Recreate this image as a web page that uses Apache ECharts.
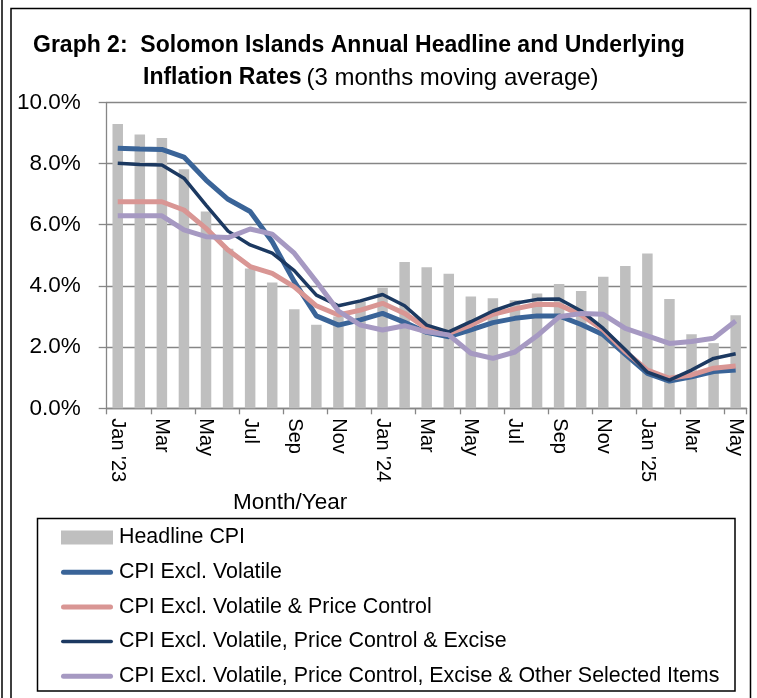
<!DOCTYPE html>
<html>
<head>
<meta charset="utf-8">
<script src="https://cdn.jsdelivr.net/npm/echarts@6/dist/echarts.min.js"></script>
<style>
  html, body { margin: 0; padding: 0; background: #fff; }
  #chart { width: 757px; height: 698px; }
</style>
</head>
<body>
<div id="chart"></div>
<script>
// months, Jan '23 .. May '25
const months = ["Jan '23", "Feb", "Mar", "Apr", "May", "Jun", "Jul", "Aug", "Sep", "Oct", "Nov", "Dec",
  "Jan '24", "Feb", "Mar", "Apr", "May", "Jun", "Jul", "Aug", "Sep", "Oct", "Nov", "Dec",
  "Jan '25", "Feb", "Mar", "Apr", "May"];

const headlineCPI = [9.29, 8.95, 8.83, 7.81, 6.43, 5.21, 4.57, 4.11, 3.24, 2.73, 3.0, 3.48,
  3.94, 4.78, 4.61, 4.40, 3.65, 3.60, 3.53, 3.75, 4.06, 3.83, 4.30, 4.65, 5.06, 3.57, 2.42, 2.13, 3.04];
const exVolatile = [8.50, 8.47, 8.46, 8.21, 7.46, 6.83, 6.43, 5.44, 4.14, 3.02, 2.72, 2.89,
  3.10, 2.81, 2.48, 2.34, 2.56, 2.80, 2.94, 3.02, 3.02, 2.74, 2.40, 1.76, 1.14, 0.89, 1.03, 1.20, 1.25];
const exVolPriceCtrl = [6.75, 6.75, 6.75, 6.48, 5.88, 5.17, 4.63, 4.41, 3.97, 3.35, 3.05, 3.21,
  3.43, 3.10, 2.61, 2.45, 2.72, 3.07, 3.25, 3.40, 3.38, 3.05, 2.56, 1.85, 1.25, 0.98, 1.09, 1.31, 1.38];
const exVolPriceCtrlExcise = [8.01, 7.97, 7.95, 7.52, 6.64, 5.79, 5.34, 5.07, 4.50, 3.70, 3.35, 3.51,
  3.72, 3.35, 2.72, 2.50, 2.83, 3.18, 3.43, 3.56, 3.57, 3.18, 2.61, 1.91, 1.18, 0.92, 1.25, 1.63, 1.78];
const exVolPriceCtrlExciseOther = [6.29, 6.29, 6.29, 5.83, 5.61, 5.58, 5.86, 5.69, 5.07, 4.14, 3.18, 2.72,
  2.56, 2.70, 2.50, 2.40, 1.80, 1.63, 1.84, 2.37, 2.99, 3.10, 3.07, 2.61, 2.37, 2.12, 2.18, 2.29, 2.85];

const font = "Liberation Sans";
const chart = echarts.init(document.getElementById("chart"));

// legend icons: wide flat bars, keeps aspect inside 52x14 box
const barIcon = "path://M0,0 H52 V14 H0 Z";
const thickLine = "path://M2.5,0 H49.5 A2.5,2.5 0 0 1 49.5,5 H2.5 A2.5,2.5 0 0 1 2.5,0 Z";
const thinLine = "path://M1.75,0 H50.25 A1.75,1.75 0 0 1 50.25,3.5 H1.75 A1.75,1.75 0 0 1 1.75,0 Z";

const option = {
  animation: false,
  textStyle: { fontFamily: font, color: "#000" },
  title: [
    {
      text: "Graph 2:  Solomon Islands Annual Headline and Underlying",
      left: 33,
      top: 34,
      padding: 0,
      textStyle: { fontFamily: font, fontSize: 23, fontWeight: "bold", color: "#000" },
    },
    {
      text: "{b|Inflation Rates} {n|(3 months moving average)}",
      left: 143,
      top: 66,
      padding: 0,
      textStyle: {
        fontWeight: "normal",
        rich: {
          b: { fontFamily: font, fontSize: 23, fontWeight: "bold", color: "#000" },
          n: { fontFamily: font, fontSize: 24, fontWeight: "normal", color: "#000" },
        },
      },
    },
  ],
  legend: {
    orient: "vertical",
    left: 61,
    top: 527,
    padding: 0,
    itemWidth: 52,
    itemHeight: 14,
    itemGap: 13.7,
    selectedMode: false,
    itemStyle: { borderWidth: 0 },
    textStyle: { fontFamily: font, fontSize: 21.4, color: "#000", padding: [0, 0, 0, 1] },
    data: [
      { name: "Headline CPI", icon: barIcon },
      { name: "CPI Excl. Volatile", icon: thickLine },
      { name: "CPI Excl. Volatile & Price Control", icon: thickLine },
      { name: "CPI Excl. Volatile, Price Control & Excise", icon: thinLine },
      { name: "CPI Excl. Volatile, Price Control, Excise & Other Selected Items", icon: thickLine },
    ],
  },
  grid: {
    left: 106.7,
    right: 10.3,
    top: 102.3,
    bottom: 289.7,
  },
  xAxis: {
    type: "category",
    data: months,
    boundaryGap: true,
    axisLine: { lineStyle: { color: "#868686", width: 1.3 } },
    axisTick: { show: true, interval: 1, length: 6, lineStyle: { color: "#868686", width: 1.3 } },
    axisLabel: {
      interval: 1,
      rotate: -90,
      margin: 10,
      fontFamily: font,
      fontSize: 20,
      color: "#000",
    },
    splitLine: { show: false },
  },
  yAxis: {
    type: "value",
    min: 0,
    max: 10,
    interval: 2,
    axisLine: { show: true, lineStyle: { color: "#868686", width: 1.3 } },
    axisTick: { show: true, length: 8, lineStyle: { color: "#868686", width: 1.3 } },
    axisLabel: {
      margin: 26,
      fontFamily: font,
      fontSize: 22.5,
      color: "#000",
      formatter: (v) => v.toFixed(1) + "%",
    },
    splitLine: { lineStyle: { color: "#868686", width: 1.3 } },
  },
  graphic: [
    // outer frame
    { type: "line", shape: { x1: 2, y1: 0, x2: 2, y2: 698 }, style: { stroke: "#000", lineWidth: 1.5 } },
    { type: "rect", shape: { x: 11, y: 8.5, width: 739.5, height: 700 }, style: { fill: "none", stroke: "#000", lineWidth: 1.5 } },
    // legend box
    { type: "rect", shape: { x: 37.5, y: 518.5, width: 697.5, height: 172.5 }, style: { fill: "none", stroke: "#000", lineWidth: 1.5 } },
    // axis title
    {
      type: "text",
      left: 233,
      top: 491,
      style: { text: "Month/Year", fontFamily: font, fontSize: 22.5, fill: "#000" },
    },
  ],
  series: [
    {
      name: "Headline CPI",
      type: "bar",
      barWidth: 10.5,
      itemStyle: { color: "#bfbfbf" },
      data: headlineCPI,
    },
    {
      name: "CPI Excl. Volatile",
      type: "line",
      symbol: "none",
      lineStyle: { width: 5, color: "#3a6498" },
      itemStyle: { color: "#3a6498" },
      data: exVolatile,
    },
    {
      name: "CPI Excl. Volatile & Price Control",
      type: "line",
      symbol: "none",
      lineStyle: { width: 5, color: "#d99694" },
      itemStyle: { color: "#d99694" },
      data: exVolPriceCtrl,
    },
    {
      name: "CPI Excl. Volatile, Price Control & Excise",
      type: "line",
      symbol: "none",
      lineStyle: { width: 3.5, color: "#1c3961" },
      itemStyle: { color: "#1c3961" },
      data: exVolPriceCtrlExcise,
    },
    {
      name: "CPI Excl. Volatile, Price Control, Excise & Other Selected Items",
      type: "line",
      symbol: "none",
      lineStyle: { width: 5, color: "#a699c2" },
      itemStyle: { color: "#a699c2" },
      data: exVolPriceCtrlExciseOther,
    },
  ],
};

chart.setOption(option);
</script>
</body>
</html>
